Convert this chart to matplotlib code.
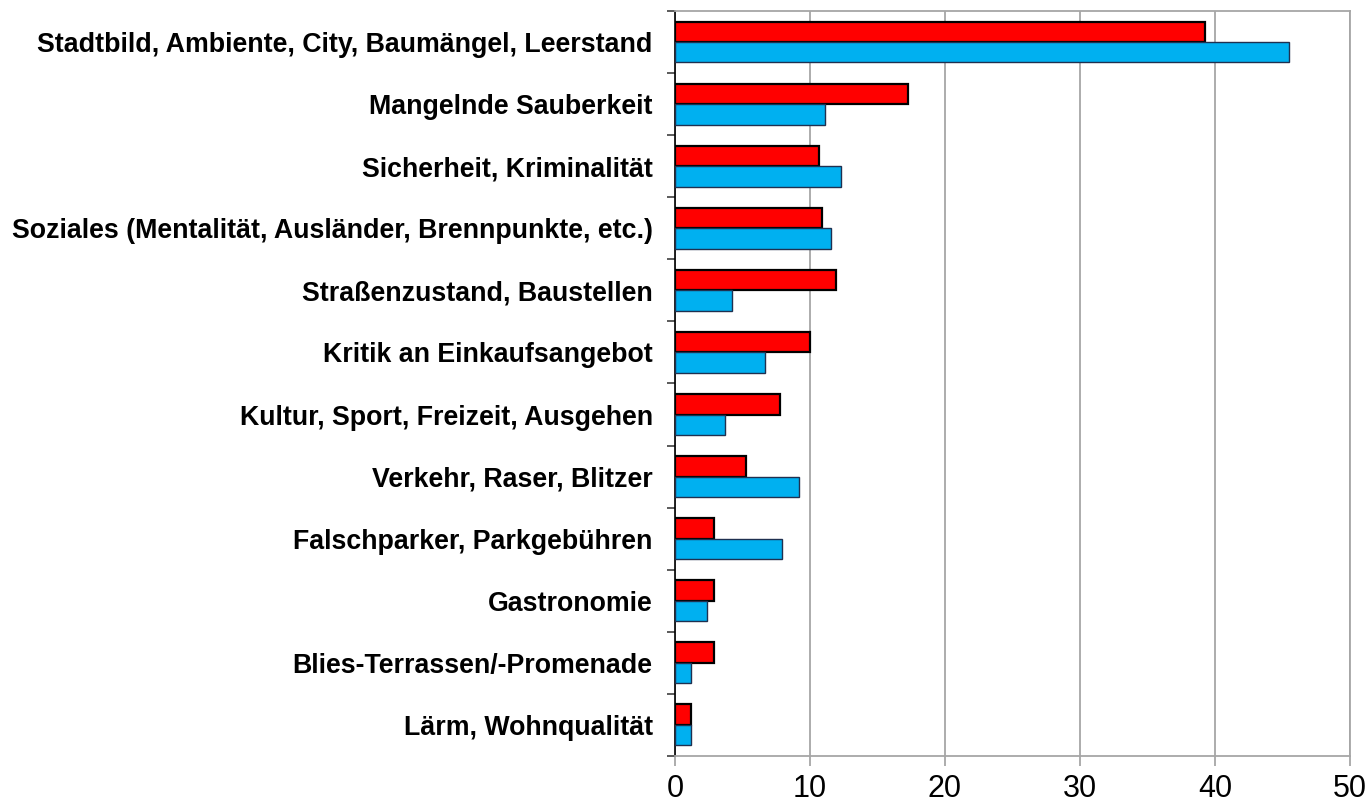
import numpy as np
import matplotlib.pyplot as plt

categories = [
    "Stadtbild, Ambiente, City, Baumängel, Leerstand",
    "Mangelnde Sauberkeit",
    "Sicherheit, Kriminalität",
    "Soziales (Mentalität, Ausländer, Brennpunkte, etc.)",
    "Straßenzustand, Baustellen",
    "Kritik an Einkaufsangebot",
    "Kultur, Sport, Freizeit, Ausgehen",
    "Verkehr, Raser, Blitzer",
    "Falschparker, Parkgebühren",
    "Gastronomie",
    "Blies-Terrassen/-Promenade",
    "Lärm, Wohnqualität",
]
red_values = [39.3, 17.3, 10.7, 10.9, 11.9, 10.0, 7.8, 5.3, 2.9, 2.9, 2.9, 1.2]
blue_values = [45.5, 11.1, 12.3, 11.6, 4.2, 6.7, 3.7, 9.2, 7.9, 2.4, 1.2, 1.2]
x_ticks = [0, 10, 20, 30, 40, 50]

plt.rcParams['font.family'] = ['Liberation Sans', 'DejaVu Sans']

fig = plt.figure(figsize=(13.69, 8.06), dpi=100)
ax = fig.add_axes([0.493, 0.062, 0.493, 0.9244])

y = np.arange(len(categories))
h = 0.33
ax.barh(y - h / 2, red_values, height=h, color='#FF0000', edgecolor='black',
        linewidth=1.6, zorder=3)
ax.barh(y + h / 2, blue_values, height=h, color='#00B0F0', edgecolor='#1F3050',
        linewidth=1.0, zorder=3)

ax.set_xlim(0, 50)
ax.set_ylim(len(categories) - 0.5, -0.5)
ax.set_xticks(x_ticks)
ax.set_xticklabels([str(t) for t in x_ticks], fontsize=22)
ax.xaxis.grid(True, color='#A6A6A6', linewidth=1.3, zorder=0)

ax.set_yticks(y)
ax.set_yticklabels(categories, fontsize=19.3, fontweight='bold')
ax.set_yticks(np.arange(len(categories) + 1) - 0.5, minor=True)
ax.tick_params(axis='y', which='major', length=0, pad=16)
ax.tick_params(axis='y', which='minor', length=6, width=1.2, color='#404040')
ax.tick_params(axis='x', length=7, width=1.3, color='#A6A6A6', pad=6)

for side in ['top', 'right', 'bottom']:
    ax.spines[side].set_color('#A6A6A6')
    ax.spines[side].set_linewidth(1.3)
ax.spines['left'].set_color('black')
ax.spines['left'].set_linewidth(1.2)

fig.savefig('out.png', dpi=100)
